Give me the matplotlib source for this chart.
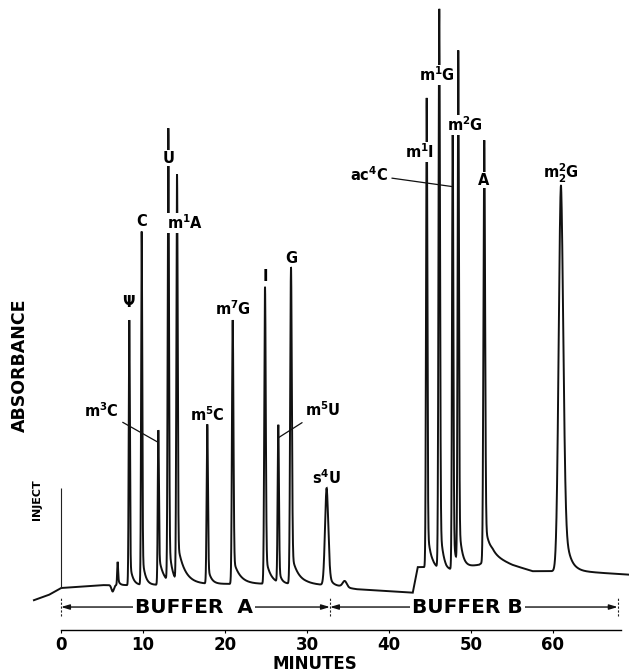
import numpy as np
import matplotlib
matplotlib.use("Agg")
import matplotlib.pyplot as plt

plt.rcParams['font.family'] = ['DejaVu Sans']
plt.rcParams['font.weight'] = 'bold'
plt.rcParams['mathtext.fontset'] = 'dejavusans'
plt.rcParams['mathtext.default'] = 'bf'

# 峰：保留时间 (min)、峰顶吸光度 (相对单位)、宽度、拖尾
peak_time = [6.3, 6.91, 8.33, 9.84, 11.87, 13.09, 14.15, 17.84, 20.94, 24.88,
             26.5, 28.05, 32.4, 34.6, 44.6, 46.13, 47.77, 48.45, 51.62, 60.98]
peak_top = [-0.006, 0.045, 0.462, 0.614, 0.272, 0.786, 0.707, 0.281, 0.462, 0.519,
            0.278, 0.553, 0.172, 0.012, 0.845, 0.997, 0.795, 0.919, 0.772, 0.695]
peak_sigma = [0.15, 0.06, 0.07, 0.07, 0.07, 0.08, 0.08, 0.08, 0.09, 0.09,
              0.08, 0.10, 0.20, 0.25, 0.08, 0.09, 0.08, 0.08, 0.10, 0.28]
peak_tailfrac = [0.0, 0.3, 0.1, 0.1, 0.2, 0.1, 0.1, 0.12, 0.1, 0.1,
                 0.1, 0.1, 0.2, 0.0, 0.1, 0.1, 0.1, 0.1, 0.1, 0.25]
peak_tau = [0.2, 0.2, 0.35, 0.35, 0.6, 0.4, 0.9, 0.4, 0.8, 0.6,
            0.3, 0.8, 0.4, 0.3, 0.4, 0.4, 0.3, 0.4, 0.6, 0.6]

# 基线 (min, 吸光度)
base_t = [-3.3, -1.5, 0.0, 5.0, 10.0, 20.0, 30.0, 34.0, 36.0, 42.9, 43.5,
          45.3, 47.0, 49.5, 51.0, 52.6, 55.0, 57.5, 63.0, 66.0, 69.3]
base_A = [-0.021, -0.012, 0.0, 0.005, 0.005, 0.007, 0.007, 0.003, -0.002, -0.008, 0.036,
          0.036, 0.028, 0.036, 0.040, 0.055, 0.040, 0.029, 0.029, 0.026, 0.023]

inject_top = 0.172

# 标签：峰序号、文字、偏移(px)、引线落点(吸光度)
label_peak = [2, 3, 4, 5, 6, 7, 8, 9, 10, 11, 12, 14, 15, 16, 17, 18, 19]
label_text = ["Ψ", "C", "m$^3$C", "U", "m$^1$A", "m$^5$C", "m$^7$G", "I", "m$^5$U",
              "G", "s$^4$U", "m$^1$I", "m$^1$G", "ac$^4$C", "m$^2$G", "A", "m$_2^2$G"]
label_dx = [-1, 0, -57, 0, 8, 0, 0, 0, 44, 0, 0, -7, -2, -84, 7, -1, 0]
label_dy = [18, 10, 20, -26, -45, 10, 11, 10, 17, 9, 11, -54, -65, -48, -70, -40, 12]
label_drop = [None, None, 0.021, None, None, None, None, None, 0.019,
              None, None, None, None, 0.103, None, None, None]
label_mask = [False, False, False, True, True, False, False, False, False,
              False, False, True, True, False, True, True, False]

xticks = [0, 10, 20, 30, 40, 50, 60]
buffer_names = ["BUFFER  A", "BUFFER B"]
buffer_start = [0.0, 32.8]
buffer_end = [32.8, 67.9]
buffer_text_t = [16.2, 49.6]


def peak_shape(t, t0, s, k, tau):
    dt = t - t0
    g = np.exp(-0.5 * (dt / s) ** 2)
    tail = np.where(dt > 0, np.exp(-np.clip(dt, 0, None) / tau), g)
    return (1 - k) * g + k * tail


t = np.arange(-3.3, 69.3, 0.004)
trace = np.interp(t, base_t, base_A)
for t0, top, s, k, tau in zip(peak_time, peak_top, peak_sigma, peak_tailfrac, peak_tau):
    h = top - np.interp(t0, base_t, base_A)
    trace += h * peak_shape(t, t0, s, k, tau)

fig = plt.figure(figsize=(6.29, 6.72), dpi=100)
ax = fig.add_axes([0, 42 / 672, 1, 630 / 672])
ax.set_xlim(-7.44, 69.27)
ax.set_ylim(-0.0724, 1.0138)

ax.plot(t, trace, color='#111111', lw=1.4, solid_joinstyle='miter')
ax.vlines(0, 0, inject_top, color='#222222', lw=0.8)

px = 0.72  # 1 px 对应的点数
for i, txt, dx, dy, drop, mask in zip(label_peak, label_text, label_dx, label_dy,
                                     label_drop, label_mask):
    t0, top = peak_time[i], peak_top[i]
    bbox = dict(boxstyle='square,pad=0.05', fc='white', ec='none') if mask else None
    if drop is None:
        ax.annotate(txt, xy=(t0, top), xytext=(dx * px, dy * px),
                    textcoords='offset points', ha='center', va='center',
                    fontsize=10.5, fontweight='bold', bbox=bbox, zorder=5)
    else:
        ax.annotate(txt, xy=(t0, top - drop),
                    xytext=(dx * px, (dy + drop * 580) * px),
                    textcoords='offset points', ha='center', va='center',
                    fontsize=10.5, fontweight='bold', zorder=5,
                    arrowprops=dict(arrowstyle='-', lw=0.9, color='#111111',
                                    shrinkA=1, shrinkB=0))

# 缓冲液区段
yb = -0.0328
for name, t1, t2, tm in zip(buffer_names, buffer_start, buffer_end, buffer_text_t):
    ax.annotate('', xy=(t1, yb), xytext=(t2, yb),
                arrowprops=dict(arrowstyle='<|-|>,head_length=0.5,head_width=0.15',
                                lw=1.0, color='#111111', shrinkA=0, shrinkB=0))
    ax.text(tm, yb, name, ha='center', va='center', fontsize=14.5, fontweight='bold',
            bbox=dict(boxstyle='square,pad=0.1', fc='white', ec='none'), zorder=4)
ax.vlines(buffer_start + [buffer_end[-1]], yb - 0.015, yb + 0.015,
          color='#222222', lw=0.8, linestyles=(0, (2, 1.5)))

for side in ['top', 'left', 'right']:
    ax.spines[side].set_visible(False)
ax.spines['bottom'].set_bounds(0, 68.3)
ax.spines['bottom'].set_linewidth(1.0)
ax.set_xticks(xticks)
ax.set_xticklabels([str(v) for v in xticks], fontsize=12, fontweight='bold')
ax.tick_params(axis='x', length=2, width=0.8, pad=2)
ax.set_yticks([])
ax.set_xlabel('MINUTES', fontsize=12, fontweight='bold', va='center')
ax.xaxis.set_label_coords(0.5, -0.054)
ax.patch.set_alpha(0)

fig.text(20 / 629, 1 - 365 / 672, 'ABSORBANCE', rotation=90, ha='center', va='center',
         fontsize=12.5, fontweight='bold')
fig.text(37 / 629, 1 - 500 / 672, 'INJECT', rotation=90, ha='center', va='center',
         fontsize=8, fontweight='bold')

fig.savefig('out.png', dpi=100)
